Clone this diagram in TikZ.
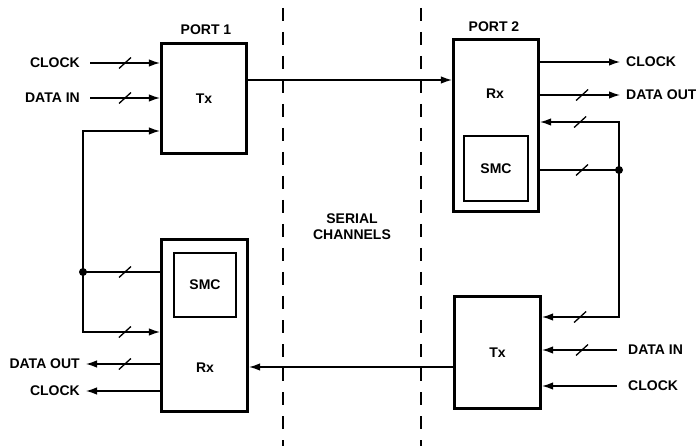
\documentclass[tikz,border=0pt]{standalone}
\usepackage{fontspec}
\setmainfont{Liberation Sans}
\usetikzlibrary{arrows.meta,decorations.markings,calc}
\begin{document}
\begin{tikzpicture}[x=1pt,y=-1pt,
  font=\bfseries\fontsize{14}{16}\selectfont,
  blk/.style={draw,line width=3.2pt,inner sep=0pt,align=center},
  smcbox/.style={draw,line width=2.2pt,inner sep=0pt},
  lbl/.style={inner sep=0pt,align=center},
  sig/.style={line width=1.3pt},
  arr/.style={sig,-{Latex[length=11pt,width=7.5pt]}},
  bus/.style={postaction={decorate,decoration={markings,
      mark=at position #1 with {\draw[line width=1.3pt,-] (-6pt,-5.5pt)--(6pt,5.5pt);}}}},
  dot/.style={circle,fill,inner sep=0pt,minimum size=8pt},
  divider/.style={line width=1.5pt,dash pattern=on 13pt off 11pt}]
\useasboundingbox (0,0) rectangle (696,446);

% dashed dividers
\draw[divider] (283,8) -- (283,446);
\draw[divider] (421,8) -- (421,446);
\node[lbl] (serial) at (352,227) {SERIAL\\CHANNELS};

% boxes
\node[blk,minimum width=85pt,minimum height=110pt] (tx1) at (204,98.5) {Tx};
\node[lbl] (port1) at (206,30) {PORT 1};
\node[blk,minimum width=85pt,minimum height=172pt] (rx2) at (496,125.5) {};
\node[lbl] (port2) at (494,27) {PORT 2};
\node[lbl] (rx2t) at (495,94) {Rx};
\node[smcbox,minimum width=64pt,minimum height=65pt] (smc2) at (496,168.5) {SMC};
\node[blk,minimum width=86pt,minimum height=112pt] (tx2) at (497.5,352.5) {Tx};
\node[blk,minimum width=86pt,minimum height=172pt] (rx1) at (204.5,325.5) {};
\node[lbl] (rx1t) at (205,368) {Rx};
\node[smcbox,minimum width=62pt,minimum height=64pt] (smc1) at (205,285) {SMC};

% left labels
\node[lbl,anchor=east] (clkin1) at (80,63) {CLOCK};
\node[lbl,anchor=east] (din1) at (80,98) {DATA IN};
\node[lbl,anchor=east] (dout1) at (80,364) {DATA OUT};
\node[lbl,anchor=east] (clkout1) at (80,391) {CLOCK};
% right labels
\node[lbl,anchor=west] (clkout2) at (626,62) {CLOCK};
\node[lbl,anchor=west] (dout2) at (626,95) {DATA OUT};
\node[lbl,anchor=west] (din2) at (628,350) {DATA IN};
\node[lbl,anchor=west] (clkin2) at (628,386) {CLOCK};

% coordinates
\coordinate (a1) at (90,63);
\coordinate (a2) at (90,98);
\coordinate (a3) at (83,131);
\node[dot] (j1) at (83,272) {};
\coordinate (a4) at (83,332);
\coordinate (o1) at (86,364);
\coordinate (o2) at (86,391);
\coordinate (s1) at (250,80);
\coordinate (s2) at (250,367);
\coordinate (r1) at (620,62);
\coordinate (r2) at (620,95);
\coordinate (r3) at (619,122);
\node[dot] (j2) at (619,170) {};
\coordinate (r4) at (619,317);
\coordinate (r5) at (617,350);
\coordinate (r6) at (617,386);

% left side
\draw[arr,bus=35pt] (a1) -- (a1 -| tx1.west);
\draw[arr,bus=35pt] (a2) -- (a2 -| tx1.west);
\draw[arr] (j1.center) -- (a3) -- (a3 -| tx1.west);
\draw[sig,bus=42pt] (j1.center) -- (j1 -| rx1.west);
\draw[arr,bus=-35pt] (j1.center) -- (a4) -- (a4 -| rx1.west);
\draw[arr,bus=35pt] (o1 -| rx1.west) -- (o1);
\draw[arr] (o2 -| rx1.west) -- (o2);

% serial channels
\draw[arr] (s1 -| tx1.east) -- (s1 -| rx2.west);
\draw[arr] (s2 -| tx2.west) -- (s2 -| rx1.east);

% right side
\draw[arr] (r1 -| rx2.east) -- (r1);
\draw[arr,bus=42pt] (r2 -| rx2.east) -- (r2);
\draw[arr,bus=-40pt] (j2.center) -- (r3) -- (r3 -| rx2.east);
\draw[sig,bus=37pt] (j2.center) -- (j2 -| rx2.east);
\draw[arr,bus=-38pt] (j2.center) -- (r4) -- (r4 -| tx2.east);
\draw[arr,bus=35pt] (r5) -- (r5 -| tx2.east);
\draw[arr] (r6) -- (r6 -| tx2.east);
\end{tikzpicture}
\end{document}
